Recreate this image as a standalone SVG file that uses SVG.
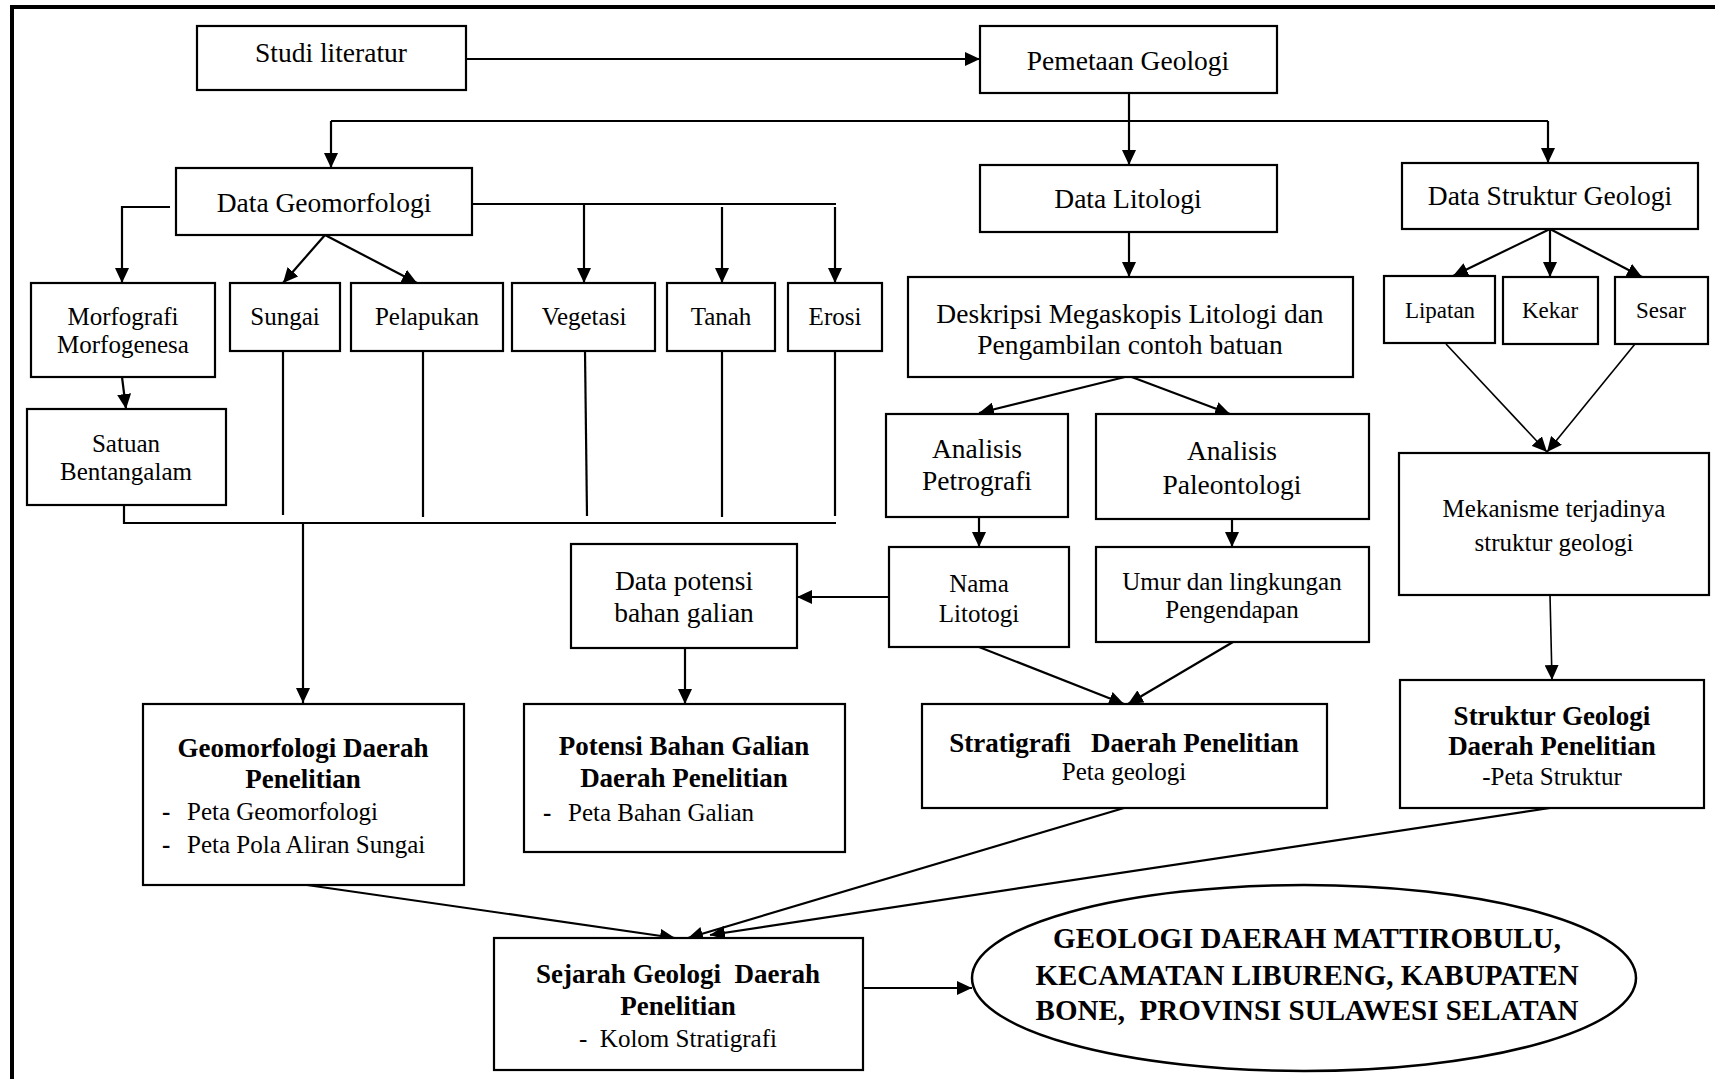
<svg xmlns="http://www.w3.org/2000/svg" width="1715" height="1079" viewBox="0 0 1715 1079">
<defs>
<marker id="ah" markerUnits="userSpaceOnUse" markerWidth="16" markerHeight="14" refX="15" refY="7" orient="auto">
<path d="M0,0 L15,7 L0,14 z" fill="#000"/>
</marker>
<style>
rect{fill:#fff;stroke:#000;stroke-width:2.2}
ellipse{fill:#fff;stroke:#000;stroke-width:2.5}
text{font-family:"Liberation Serif","Times New Roman",serif;fill:#000;font-size:25px}
.c{text-anchor:middle}
.l{font-size:27.5px}
.s{font-size:23px}
.b{font-weight:bold;font-size:27px}
.e{font-weight:bold;font-size:29px}
#connectors line,#connectors polyline{stroke:#000;stroke-width:2.2;fill:none}
#connectors .a{marker-end:url(#ah)}
#connectors .t{stroke-width:1.6}
</style>
</defs>
<rect x="0" y="0" width="1715" height="1079" style="fill:#fff;stroke:none"/>
<g id="frame">
<line x1="10" y1="7" x2="1715" y2="7" stroke="#000" stroke-width="4"/>
<line x1="12" y1="5" x2="12" y2="1079" stroke="#000" stroke-width="4"/>
</g>
<g id="connectors">
<line class="a" x1="466" y1="59" x2="980" y2="59"/>
<line class="a" x1="1129" y1="93" x2="1129" y2="165"/>
<polyline points="331,168 331,121 1548,121 1548,163" style="stroke:none"/>
<line x1="331" y1="121" x2="1548" y2="121"/>
<line class="a" x1="331" y1="121" x2="331" y2="168"/>
<line class="a" x1="1548" y1="121" x2="1548" y2="163"/>
<polyline class="a" points="170,207 122,207 122,283"/>
<line class="a" x1="325" y1="235" x2="283" y2="283"/>
<line class="a" x1="325" y1="235" x2="417" y2="283"/>
<line x1="472" y1="204" x2="836" y2="204"/>
<line class="a" x1="584" y1="204" x2="584" y2="283"/>
<line class="a" x1="722" y1="207" x2="722" y2="283"/>
<line class="a" x1="835" y1="207" x2="835" y2="283"/>
<line class="a" x1="122" y1="377" x2="126" y2="409"/>
<line x1="283" y1="351" x2="283" y2="515"/>
<line x1="423" y1="351" x2="423" y2="517"/>
<line x1="585" y1="351" x2="587" y2="516"/>
<line x1="722" y1="351" x2="722" y2="517"/>
<line x1="835" y1="351" x2="835" y2="516"/>
<polyline points="124,505 124,523 836,523"/>
<line class="a" x1="303" y1="523" x2="303" y2="703"/>
<line class="a" x1="1129" y1="232" x2="1129" y2="277"/>
<line class="a" x1="1129" y1="376" x2="979" y2="413"/>
<line class="a" x1="1129" y1="376" x2="1230" y2="414"/>
<line class="a" x1="979" y1="517" x2="979" y2="547"/>
<line class="a" x1="1232" y1="519" x2="1232" y2="547"/>
<line class="a" x1="889" y1="597" x2="797" y2="597"/>
<line class="a" x1="685" y1="648" x2="685" y2="704"/>
<line class="a" x1="979" y1="647" x2="1124" y2="704"/>
<line class="a" x1="1233" y1="642" x2="1128" y2="704"/>
<line class="a" x1="1550" y1="229" x2="1453" y2="276"/>
<line class="a" x1="1550" y1="229" x2="1550" y2="277"/>
<line class="a" x1="1550" y1="229" x2="1642" y2="277"/>
<line class="a t" x1="1446" y1="344" x2="1547" y2="452"/>
<line class="a t" x1="1635" y1="344" x2="1547" y2="452"/>
<line class="a t" x1="1550" y1="595" x2="1552" y2="680"/>
<line class="a" x1="307" y1="885" x2="675" y2="938"/>
<line class="a" x1="1124" y1="808" x2="688" y2="938"/>
<line class="a" x1="1550" y1="808" x2="710" y2="935"/>
<line class="a" x1="863" y1="988" x2="972" y2="988"/>
</g>
<g id="studi"><rect x="197" y="26" width="269" height="64"/><text class="c l" x="331" y="62">Studi literatur</text></g>
<g id="pemetaan"><rect x="980" y="26" width="297" height="67"/><text class="c l" x="1128" y="70">Pemetaan Geologi</text></g>
<g id="data-geomorfologi"><rect x="176" y="168" width="296" height="67"/><text class="c l" x="324" y="212">Data Geomorfologi</text></g>
<g id="data-litologi"><rect x="980" y="165" width="297" height="67"/><text class="c l" x="1128" y="208">Data Litologi</text></g>
<g id="data-struktur"><rect x="1402" y="163" width="296" height="66"/><text class="c l" x="1550" y="205">Data Struktur Geologi</text></g>
<g id="morfografi"><rect x="31" y="283" width="184" height="94"/><text class="c" x="123" y="325">Morfografi</text><text class="c" x="123" y="353">Morfogenesa</text></g>
<g id="sungai"><rect x="230" y="283" width="110" height="68"/><text class="c" x="285" y="325">Sungai</text></g>
<g id="pelapukan"><rect x="351" y="283" width="152" height="68"/><text class="c" x="427" y="325">Pelapukan</text></g>
<g id="vegetasi"><rect x="512" y="283" width="143" height="68"/><text class="c" x="584" y="325">Vegetasi</text></g>
<g id="tanah"><rect x="667" y="283" width="108" height="68"/><text class="c" x="721" y="325">Tanah</text></g>
<g id="erosi"><rect x="788" y="283" width="94" height="68"/><text class="c" x="835" y="325">Erosi</text></g>
<g id="deskripsi"><rect x="908" y="277" width="445" height="100"/><text class="c l" x="1130" y="323">Deskripsi Megaskopis Litologi dan</text><text class="c l" x="1130" y="354">Pengambilan contoh batuan</text></g>
<g id="lipatan"><rect x="1384" y="276" width="111" height="67"/><text class="c s" x="1440" y="318">Lipatan</text></g>
<g id="kekar"><rect x="1503" y="277" width="95" height="67"/><text class="c s" x="1550" y="318">Kekar</text></g>
<g id="sesar"><rect x="1615" y="277" width="93" height="67"/><text class="c s" x="1661" y="318">Sesar</text></g>
<g id="satuan"><rect x="27" y="409" width="199" height="96"/><text class="c" x="126" y="452">Satuan</text><text class="c" x="126" y="480">Bentangalam</text></g>
<g id="petrografi"><rect x="886" y="414" width="182" height="103"/><text class="c l" x="977" y="458">Analisis</text><text class="c l" x="977" y="490">Petrografi</text></g>
<g id="paleontologi"><rect x="1096" y="414" width="273" height="105"/><text class="c l" x="1232" y="460">Analisis</text><text class="c l" x="1232" y="494">Paleontologi</text></g>
<g id="mekanisme"><rect x="1399" y="453" width="310" height="142"/><text class="c" x="1554" y="517">Mekanisme terjadinya</text><text class="c" x="1554" y="551">struktur geologi</text></g>
<g id="data-potensi"><rect x="571" y="544" width="226" height="104"/><text class="c l" x="684" y="590">Data potensi</text><text class="c l" x="684" y="622">bahan galian</text></g>
<g id="nama-litotogi"><rect x="889" y="547" width="180" height="100"/><text class="c" x="979" y="592">Nama</text><text class="c" x="979" y="622">Litotogi</text></g>
<g id="umur"><rect x="1096" y="547" width="273" height="95"/><text class="c" x="1232" y="590">Umur dan lingkungan</text><text class="c" x="1232" y="618">Pengendapan</text></g>
<g id="geomorfologi-daerah"><rect x="143" y="704" width="321" height="181"/><text class="c b" x="303" y="757">Geomorfologi Daerah</text><text class="c b" x="303" y="788">Penelitian</text><text x="162" y="820" font-weight="bold">-</text><text x="187" y="820">Peta Geomorfologi</text><text x="162" y="853" font-weight="bold">-</text><text x="187" y="853">Peta Pola Aliran Sungai</text></g>
<g id="potensi"><rect x="524" y="704" width="321" height="148"/><text class="c b" x="684" y="755">Potensi Bahan Galian</text><text class="c b" x="684" y="787">Daerah Penelitian</text><text x="543" y="821" font-weight="bold">-</text><text x="568" y="821">Peta Bahan Galian</text></g>
<g id="stratigrafi"><rect x="922" y="704" width="405" height="104"/><text class="c b" x="1124" y="752" xml:space="preserve">Stratigrafi   Daerah Penelitian</text><text class="c" x="1124" y="780">Peta geologi</text></g>
<g id="struktur-daerah"><rect x="1400" y="680" width="304" height="128"/><text class="c b" x="1552" y="725">Struktur Geologi</text><text class="c b" x="1552" y="755">Daerah Penelitian</text><text class="c" x="1552" y="785">-Peta Struktur</text></g>
<g id="sejarah"><rect x="494" y="938" width="369" height="132"/><text class="c b" x="678" y="983" xml:space="preserve">Sejarah Geologi  Daerah</text><text class="c b" x="678" y="1015">Penelitian</text><text class="c" x="678" y="1047" xml:space="preserve">-  Kolom Stratigrafi</text></g>
<g id="judul"><ellipse cx="1304" cy="978" rx="332" ry="93"/><text class="c e" x="1307" y="948">GEOLOGI DAERAH MATTIROBULU,</text><text class="c e" x="1307" y="985">KECAMATAN LIBURENG, KABUPATEN</text><text class="c e" x="1307" y="1020" xml:space="preserve">BONE,  PROVINSI SULAWESI SELATAN</text></g>
</svg>
